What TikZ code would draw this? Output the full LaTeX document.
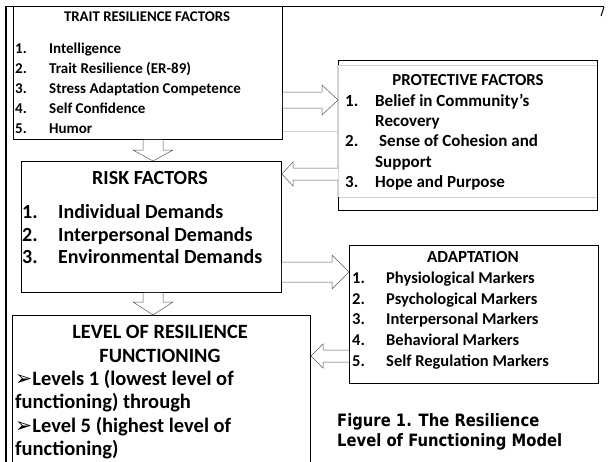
\documentclass[tikz,border=0pt]{standalone}
\usepackage{fontspec}
\setmainfont{Carlito}
\newfontfamily\capfont[FakeStretch=0.87]{DejaVu Sans}
\newfontfamily\symfont{DejaVu Sans}

\begin{document}
\begin{tikzpicture}[x=1pt, y=-1pt, inner sep=0pt,
  box/.style={draw=black, line width=0.9pt, fill=white, rectangle, anchor=north west},
  blk/.style={draw=black!65, line width=0.5pt, fill=white},
  hd/.style={font=\bfseries\fontsize{#1}{#1}\selectfont, anchor=base},
  it/.style={font=\bfseries\fontsize{#1}{#1}\selectfont, anchor=base west}]
  \useasboundingbox (0,0) rectangle (611,461);
  \clip (0,0) rectangle (611,461);

  % page frame
  \draw[line width=1.6pt] (6,470) -- (6,6.5) -- (604,6.5);
  \draw[line width=1pt] (604,7) -- (601,16);

  % boxes
  \node[box, minimum width=269pt, minimum height=133pt] (trait) at (13,6) {};
  \node[box, minimum width=260pt, minimum height=131pt] (risk) at (21,161) {};
  \node[box, minimum width=298pt, minimum height=170pt] (level) at (12,315) {};
  \node[box, minimum width=259pt, minimum height=150pt] (prot) at (338,60) {};
  \node[box, minimum width=249pt, minimum height=138pt] (adapt) at (349,245) {};

  % grey text frame edges
  \draw[gray!35, line width=0.8pt] (339,65) -- (596.5,65) (339,197) -- (596.5,197);
  \draw[gray!35, line width=1.1pt] (338,65) -- (338,197);
  \draw[gray!35, line width=0.8pt] (trait.east |- 0,131) -- (prot.west |- 0,131);

  % block arrows
  \draw[blk] (143,0 |- trait.south) -- (143,150) -- (133,150) -- (153,0 |- risk.north) -- (173,150) -- (163,150) -- (163,0 |- trait.south);
  \draw[blk] (trait.east |- 0,92) -- (322,92) -- (322,85) -- (prot.west |- 0,100) -- (322,115) -- (322,108) -- (trait.east |- 0,108);
  \draw[blk] (prot.west |- 0,168) -- (293,168) -- (293,162) -- (risk.east |- 0,174) -- (293,186) -- (293,180) -- (prot.west |- 0,180);
  \draw[blk] (risk.east |- 0,262) -- (332,262) -- (332,255) -- (adapt.west |- 0,272) -- (332,289) -- (332,282) -- (risk.east |- 0,282);
  \draw[blk] (143,0 |- risk.south) -- (143,302) -- (133,302) -- (153,0 |- level.north) -- (173,302) -- (163,302) -- (163,0 |- risk.south);
  \draw[blk] (adapt.west |- 0,350) -- (323,350) -- (323,344) -- (level.east |- 0,356) -- (323,368) -- (323,362) -- (adapt.west |- 0,362);

  % trait resilience factors
  \node[hd=14.8] (trait-t) at (147,21.5) {TRAIT RESILIENCE FACTORS};
  \foreach \t [count=\n] in {Intelligence, Trait Resilience (ER-89), Stress Adaptation Competence, Self Confidence, Humor} {
    \node[it=15] (trait-n\n) at (15,33+20*\n) {\n.};
    \node[it=15] (trait-\n) at (49,33+20*\n) {\t};
  }

  % risk factors
  \node[hd=20] (risk-t) at (150,184.5) {RISK FACTORS};
  \foreach \t [count=\n] in {Individual Demands, Interpersonal Demands, Environmental Demands} {
    \node[it=20] (risk-n\n) at (22,196+22.5*\n) {\n.};
    \node[it=20] (risk-\n) at (58,196+22.5*\n) {\t};
  }

  % level of resilience functioning
  \node[hd=20.3] (level-t1) at (160,338) {LEVEL OF RESILIENCE};
  \node[hd=20.3] (level-t2) at (160,362) {FUNCTIONING};
  \node[it=20.5] (level-1) at (15,385) {{\symfont\mdseries ➢}Levels 1 (lowest level of};
  \node[it=20.5] (level-2) at (15,408.5) {functioning) through};
  \node[it=20.5] (level-3) at (15,432) {{\symfont\mdseries ➢}Level 5 (highest level of};
  \node[it=20.5] (level-4) at (15,455.5) {functioning)};

  % protective factors
  \node[hd=16.8] (prot-t) at (468,85.5) {PROTECTIVE FACTORS};
  \node[it=17] (prot-n1) at (345,106) {1.};
  \node[it=17] (prot-1) at (375,106) {Belief in Community’s};
  \node[it=17] (prot-1b) at (375,126) {Recovery};
  \node[it=17] (prot-n2) at (345,146.5) {2.};
  \node[it=17] (prot-2) at (379,146.5) {Sense of Cohesion and};
  \node[it=17] (prot-2b) at (375,167) {Support};
  \node[it=17] (prot-n3) at (345,187.5) {3.};
  \node[it=17] (prot-3) at (375,187.5) {Hope and Purpose};

  % adaptation
  \node[hd=17] (adapt-t) at (473,262) {ADAPTATION};
  \foreach \t [count=\n] in {Physiological Markers, Psychological Markers, Interpersonal Markers, Behavioral Markers, Self Regulation Markers} {
    \node[it=16.5] (adapt-n\n) at (352,262.6+20.7*\n) {\n.};
    \node[it=16.5] (adapt-\n) at (386,262.6+20.7*\n) {\t};
  }

  % caption
  \node[anchor=base west, font=\capfont\bfseries\fontsize{17}{17}\selectfont] (cap-1) at (337,426.5) {Figure 1. The Resilience};
  \node[anchor=base west, font=\capfont\bfseries\fontsize{17}{17}\selectfont] (cap-2) at (337,446.5) {Level of Functioning Model};
\end{tikzpicture}
\end{document}
